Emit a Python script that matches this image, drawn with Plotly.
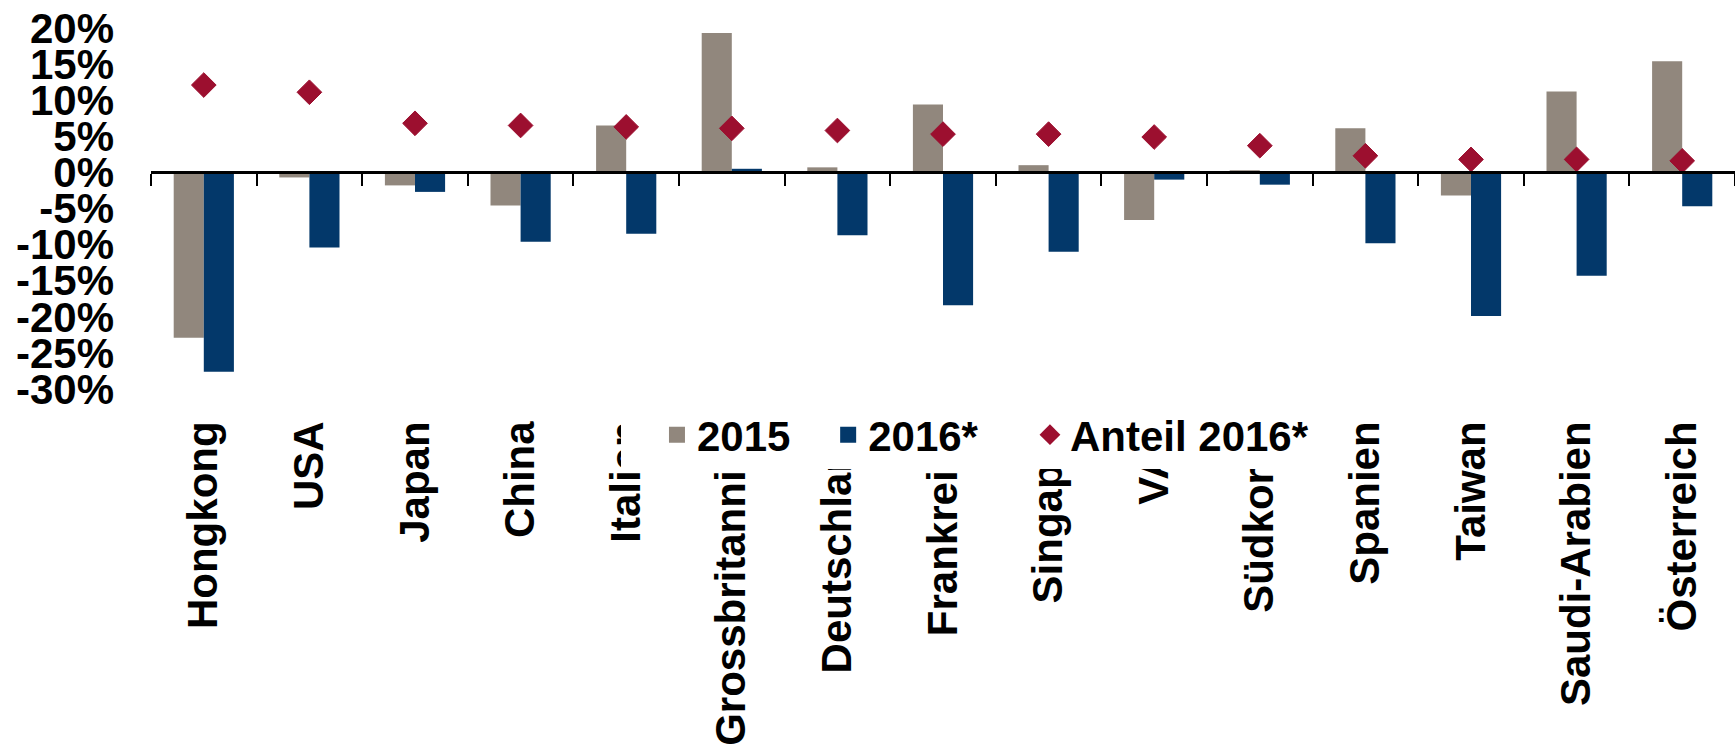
import plotly.graph_objects as go

countries = ["Hongkong", "USA", "Japan", "China", "Italien", "Grossbritannien",
             "Deutschland", "Frankreich", "Singapur", "VAE", "Südkorea", "Spanien",
             "Taiwan", "Saudi-Arabien", "Österreich"]
v2015 = [-22.9, -0.7, -1.8, -4.6, 6.5, 19.3, 0.7, 9.4, 1.0, -6.6, 0.3, 6.1, -3.2, 11.2, 15.4]
v2016 = [-27.6, -10.4, -2.7, -9.6, -8.5, 0.5, -8.7, -18.4, -11.0, -1.0, -1.7, -9.8, -19.9, -14.3, -4.7]
anteil2016 = [12.1, 11.1, 6.8, 6.5, 6.3, 6.1, 5.8, 5.3, 5.3, 4.9, 3.7, 2.3, 1.8, 1.8, 1.6]

y_tickvals = [20, 15, 10, 5, 0, -5, -10, -15, -20, -25, -30]
y_ticktext = ["20%", "15%", "10%", "5%", "0%", "-5%", "-10%", "-15%", "-20%", "-25%", "-30%"]

series_names = ["2015", "2016*", "Anteil 2016*"]

GRAY = "#91877D"
NAVY = "#03386A"
RED = "#9C0F2F"
FONT = "Liberation Sans, Arial, sans-serif"

y_min, y_max = -30, 20

fig = go.Figure()
fig.add_trace(go.Bar(x=countries, y=v2015, name=series_names[0], marker_color=GRAY,
                     marker_line_width=0, showlegend=False))
fig.add_trace(go.Bar(x=countries, y=v2016, name=series_names[1], marker_color=NAVY,
                     marker_line_width=0, showlegend=False))
fig.add_trace(go.Scatter(x=countries, y=anteil2016, name=series_names[2], mode="markers",
                         marker=dict(symbol="diamond", size=19, color=RED,
                                     line=dict(color=RED, width=1)),
                         showlegend=False))

# legend-only entries (larger swatches), one legend box each
fig.add_trace(go.Scatter(x=[None], y=[None], name=series_names[0], mode="markers",
                         marker=dict(symbol="square", size=16, color=GRAY), legend="legend"))
fig.add_trace(go.Scatter(x=[None], y=[None], name=series_names[1], mode="markers",
                         marker=dict(symbol="square", size=16, color=NAVY), legend="legend2"))
fig.add_trace(go.Scatter(x=[None], y=[None], name=series_names[2], mode="markers",
                         marker=dict(symbol="diamond", size=16, color=RED), legend="legend3"))

# invisible trace to give the zero-line axis its categories
fig.add_trace(go.Scatter(x=countries, y=[None] * len(countries), xaxis="x2", yaxis="y",
                         mode="markers", marker=dict(opacity=0), showlegend=False,
                         hoverinfo="skip"))

zero_pos = (0 - y_min) / (y_max - y_min)
legend_font = dict(family=FONT, size=42, color="black", weight="bold")
legend_common = dict(orientation="h", xanchor="left", y=-0.127, yanchor="middle",
                     bgcolor="white", borderwidth=0, font=legend_font, itemclick=False,
                     itemdoubleclick=False)

fig.update_layout(
    width=1735, height=746, autosize=False,
    margin=dict(l=151, r=0, t=28, b=357, pad=0),
    paper_bgcolor="white", plot_bgcolor="white",
    barmode="group", bargap=0.43, bargroupgap=0,
    font=dict(family=FONT, size=42, color="black", weight="bold"),
    xaxis=dict(type="category", categoryorder="array", categoryarray=countries,
               range=[-0.5, len(countries) - 0.5],
               showline=False, showgrid=False, zeroline=False, ticks="",
               tickangle=-90, ticklabelstandoff=23,
               tickfont=dict(family=FONT, size=42, color="black", weight="bold")),
    xaxis2=dict(type="category", categoryorder="array", categoryarray=countries,
                range=[-0.5, len(countries) - 0.5], overlaying="x",
                anchor="free", position=zero_pos, side="bottom",
                showline=True, linecolor="black", linewidth=2.5,
                ticks="outside", tickson="boundaries", ticklen=12, tickwidth=2,
                tickcolor="black", showticklabels=False, showgrid=False, zeroline=False),
    yaxis=dict(range=[y_min, y_max], tickvals=y_tickvals, ticktext=y_ticktext,
               showgrid=False, zeroline=False, showline=False, ticks="",
               ticklabelstandoff=36,
               tickfont=dict(family=FONT, size=42, color="black", weight="bold")),
    legend=dict(legend_common, x=0.2967, indentation=36, entrywidth=136,
                entrywidthmode="pixels"),
    legend2=dict(legend_common, x=0.4275, entrywidth=150, entrywidthmode="pixels"),
    legend3=dict(legend_common, x=0.5549),
)

fig.write_html("out.html", config={"displayModeBar": False},
               post_script="document.body.style.margin='0';")
